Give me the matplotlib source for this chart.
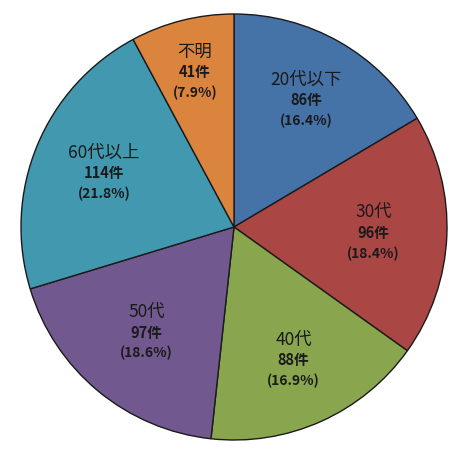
import matplotlib
matplotlib.use("Agg")
import numpy as np
import matplotlib.pyplot as plt

plt.rcParams['font.family'] = ['Noto Sans CJK JP', 'DejaVu Sans']

# data
categories = ['20代以下', '30代', '40代', '50代', '60代以上', '不明']
counts = [86, 96, 88, 97, 114, 41]
percent_labels = ['16.4%', '18.4%', '16.9%', '18.6%', '21.8%', '7.9%']
colors = ['#4572A7', '#AA4643', '#89A54E', '#71588F', '#4198AF', '#DB843D']

# how far out (fraction of radius) each label block sits
label_radius = [0.685, 0.655, 0.685, 0.645, 0.66, 0.75]

fig = plt.figure(figsize=(4.55, 4.63), dpi=100)
# square axes of 426 px centred on the pie centre (234, 227) from top-left
size_w = 426 / 455
size_h = 426 / 463
cx, cy = 234 / 455, 1 - 227 / 463
ax = fig.add_axes([cx - size_w / 2, cy - size_h / 2, size_w, size_h])

wedges, _ = ax.pie(counts, colors=colors, startangle=90, counterclock=False,
                   radius=1.0,
                   wedgeprops=dict(edgecolor='#1a1a1a', linewidth=1.0))

line_gap = 0.097
for w, cat, n, pct, r in zip(wedges, categories, counts, percent_labels, label_radius):
    mid = np.deg2rad((w.theta1 + w.theta2) / 2)
    x, y = r * np.cos(mid), r * np.sin(mid)
    ax.text(x, y + line_gap, cat, ha='center', va='center',
            fontsize=12.5, color='#1a1a1a')
    ax.text(x, y, f'{n}件', ha='center', va='center',
            fontsize=10.5, fontweight='bold', color='#1a1a1a')
    ax.text(x, y - line_gap, f'({pct})', ha='center', va='center',
            fontsize=10, fontweight='bold', color='#1a1a1a')

ax.set_xlim(-1.0, 1.0)
ax.set_ylim(-1.0, 1.0)
ax.set_aspect('equal')
ax.axis('off')

fig.savefig('out.png', dpi=100, facecolor='white')
